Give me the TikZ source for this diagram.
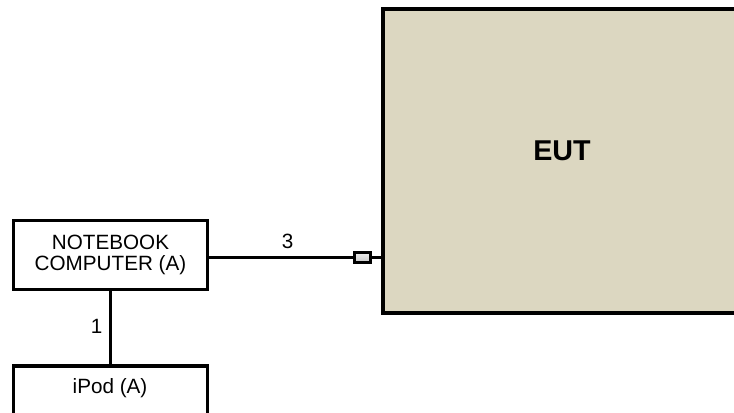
\documentclass[tikz,border=0pt]{standalone}
\usepackage{fontspec}
\setmainfont{Liberation Sans}
\definecolor{eutfill}{RGB}{220,215,193}
\begin{document}
\begin{tikzpicture}[x=0.75pt,y=-0.75pt,
  box/.style={draw=black,line width=2.4pt,fill=white,minimum width=145.5pt,minimum height=51.75pt,inner sep=0pt,align=center,font=\fontsize{15.5}{15.75}\selectfont},
  eutbox/.style={draw=black,line width=2.4pt,fill=eutfill,minimum width=268.5pt,minimum height=228pt,inner sep=0pt},
  conbox/.style={draw=black,line width=2.4pt,top color=gray!15,bottom color=gray!45,minimum width=12pt,minimum height=7.5pt,inner sep=0pt},
  wire/.style={draw=black,line width=2.6pt},
  lbl/.style={font=\fontsize{15.5}{15.75}\selectfont,inner sep=0pt}]
\useasboundingbox (0,0) rectangle (734,412);
\clip (0,0) rectangle (734,412);
\node[eutbox] (eut) at (562,161) {};
\node[font=\fontsize{21.5}{24}\selectfont\bfseries,inner sep=0pt] (eutlbl) at (562,151) {EUT};
\node[box] (nb) at (110.5,255) {NOTEBOOK\\COMPUTER (A)};
\node[box] (ipod) at (110.5,400.5) {};
\node[lbl] (ipodlbl) at (110,388) {iPod (A)};
\node[conbox] (conn) at (362.5,257.5) {};
\draw[wire] (nb.east |- conn.west) -- (conn.west);
\draw[wire] (conn.east) -- (conn.east -| eut.west);
\draw[wire] (nb.south) -- (nb.south |- ipod.north);
\node[lbl] (l3) at (287.5,241) {3};
\node[lbl] (l1) at (96.5,326) {1};
\end{tikzpicture}
\end{document}
